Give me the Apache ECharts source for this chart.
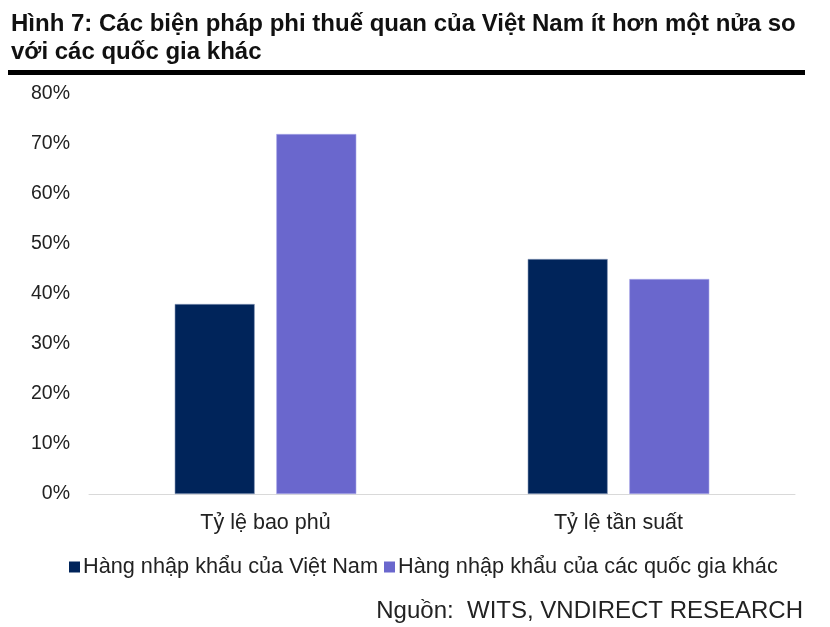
<!DOCTYPE html>
<html>
<head>
<meta charset="utf-8">
<script src="https://cdn.jsdelivr.net/npm/echarts@6/dist/echarts.min.js"></script>
<style>html,body{margin:0;padding:0;background:#fff}#c{width:830px;height:627px}</style>
</head>
<body>
<div id="c"></div>
<script>
const categories = ['Tỷ lệ bao phủ', 'Tỷ lệ tần suất'];
const seriesNames = ['Hàng nhập khẩu của Việt Nam', 'Hàng nhập khẩu của các quốc gia khác'];
const vietnamValues = [38, 47];
const otherValues = [72, 43];
const yTicks = [0, 10, 20, 30, 40, 50, 60, 70, 80];

const chart = echarts.init(document.getElementById('c'));
const font = 'Liberation Sans, Arial, sans-serif';
chart.setOption({
  animation: false,
  backgroundColor: '#fff',
  title: {
    text: 'Hình 7: Các biện pháp phi thuế quan của Việt Nam ít hơn một nửa so\nvới các quốc gia khác',
    left: 6, top: 5,
    textStyle: { fontFamily: font, fontWeight: 'bold', fontSize: 24, color: '#111', lineHeight: 28 }
  },
  graphic: [{
    type: 'rect', shape: { x: 8, y: 70, width: 797, height: 5 }, style: { fill: '#000' }
  }, {
    type: 'text', right: 27, top: 599,
    style: { text: 'Nguồn:  WITS, VNDIRECT RESEARCH', font: '24px ' + font, fill: '#222' }
  }],
  legend: {
    data: seriesNames,
    left: 64, top: 551,
    itemWidth: 11, itemHeight: 11, itemGap: 6,
    icon: 'rect',
    itemStyle: { borderWidth: 0 },
    textStyle: { fontFamily: font, fontSize: 21.7, color: '#222', padding: [0, 0, 0, -2] }
  },
  grid: { left: 89, right: 35, top: 94, bottom: 133 },
  xAxis: {
    type: 'category', data: categories,
    axisLine: { lineStyle: { color: '#d9d9d9', width: 1 } },
    axisTick: { show: false },
    axisLabel: { fontFamily: font, fontSize: 21.5, color: '#222', margin: 18 }
  },
  yAxis: {
    type: 'value', min: yTicks[0], max: yTicks[yTicks.length - 1], interval: 10,
    splitLine: { show: false },
    axisLine: { show: false }, axisTick: { show: false },
    axisLabel: { fontFamily: font, fontSize: 19.5, color: '#222', margin: 19, formatter: v => v + '%' }
  },
  series: [{
    name: seriesNames[0], type: 'bar', data: vietnamValues,
    barWidth: 80, barGap: '27%',
    itemStyle: { color: '#00245a', borderColor: '#8a9ab8', borderWidth: 0.6 }
  }, {
    name: seriesNames[1], type: 'bar', data: otherValues,
    barWidth: 80, barGap: '27%',
    itemStyle: { color: '#6a67cd', borderColor: '#a9a7e8', borderWidth: 0.6 }
  }]
});
</script>
</body>
</html>
